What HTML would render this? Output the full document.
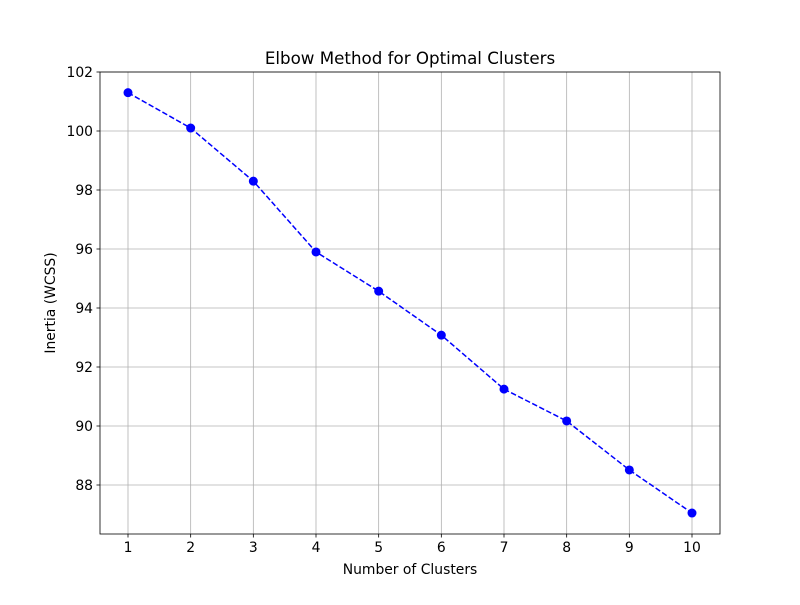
<!DOCTYPE html>
<html><head><meta charset="utf-8"><style>
body{margin:0;background:#fff;}
svg text{font-family:"DejaVu Sans","Liberation Sans",sans-serif;fill:#000;}
</style></head><body>
<svg id="chart" width="800" height="600" xmlns="http://www.w3.org/2000/svg">
<rect width="800" height="600" fill="#fff"/>
<g id="grid"></g><g id="axes"></g><g id="series"></g>
<text x="410" y="64" font-size="16.7" text-anchor="middle">Elbow Method for Optimal Clusters</text>
<text x="410" y="574" font-size="13.9" text-anchor="middle">Number of Clusters</text>
<text x="55" y="303" font-size="13.9" text-anchor="middle" transform="rotate(-90 55 303)">Inertia (WCSS)</text>
</svg>
<script>
const clusters=[1,2,3,4,5,6,7,8,9,10];
const inertia=[101.3,100.1,98.3,95.9,94.57,93.08,91.25,90.17,88.51,87.05];
const yTicks=[88,90,92,94,96,98,100,102];
const L=100,R=720,T=72,B=534;
const xs=v=>128+(v-1)*(692-128)/9;
const ys=v=>72+(102-v)*(485-72)/14;
const NS="http://www.w3.org/2000/svg";
function mk(tag,attrs,parent){const e=document.createElementNS(NS,tag);for(const k in attrs)e.setAttribute(k,attrs[k]);document.getElementById(parent).appendChild(e);return e;}
clusters.forEach(c=>{
 const g=mk('line',{x1:xs(c),x2:xs(c),y1:T,y2:B,stroke:'#b0b0b0','stroke-width':0.8},'grid');
 
 
 mk('line',{x1:xs(c),x2:xs(c),y1:B,y2:B+3.5,stroke:'#000','stroke-width':0.8},'axes');
 const t=mk('text',{x:xs(c),y:B+18,'font-size':13.9,'text-anchor':'middle'},'axes');
 t.textContent=c;
 
 
});
yTicks.forEach(v=>{
 const g=mk('line',{x1:L,x2:R,y1:ys(v),y2:ys(v),stroke:'#b0b0b0','stroke-width':0.8},'grid');
 
 
 mk('line',{x1:L-3.5,x2:L,y1:ys(v),y2:ys(v),stroke:'#000','stroke-width':0.8},'axes');
 const t=mk('text',{x:L-7,y:ys(v)+5,'font-size':13.9,'text-anchor':'end'},'axes');
 t.textContent=v;
 
 
});
const fr=mk('rect',{x:L,y:T,width:R-L,height:B-T,fill:'none',stroke:'#000','stroke-width':0.8},'axes');


const pl=mk('polyline',{points:clusters.map((c,i)=>xs(c)+','+ys(inertia[i])).join(' '),fill:'none',stroke:'#0000ff','stroke-width':1.5,'stroke-dasharray':'5.5,2.4'},'series');


clusters.forEach((c,i)=>{
 const p=mk('circle',{cx:xs(c),cy:ys(inertia[i]),r:4.5,fill:'#0000ff'},'series');
 
 
});
</script>
</body></html>
